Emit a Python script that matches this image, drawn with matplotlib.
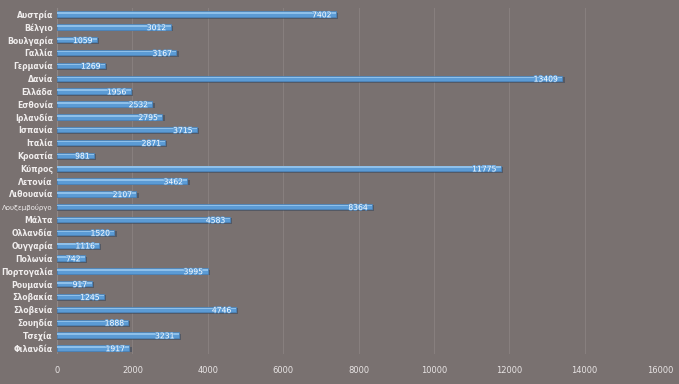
import matplotlib
matplotlib.use("Agg")
import matplotlib.pyplot as plt
import matplotlib.patheffects as pe

countries = ["Αυστρία", "Βέλγιο", "Βουλγαρία", "Γαλλία", "Γερμανία", "Δανία", "Ελλάδα",
             "Εσθονία", "Ιρλανδία", "Ισπανία", "Ιταλία", "Κροατία", "Κύπρος", "Λετονία",
             "Λιθουανία", "Λουξεμβούργο", "Μάλτα", "Ολλανδία", "Ουγγαρία", "Πολωνία",
             "Πορτογαλία", "Ρουμανία", "Σλοβακία", "Σλοβενία", "Σουηδία", "Τσεχία", "Φιλανδία"]
values = [7402, 3012, 1059, 3167, 1269, 13409, 1956, 2532, 2795, 3715, 2871, 981, 11775,
          3462, 2107, 8364, 4583, 1520, 1116, 742, 3995, 917, 1245, 4746, 1888, 3231, 1917]
xticks = [0, 2000, 4000, 6000, 8000, 10000, 12000, 14000, 16000]

bg = "#797170"
fig = plt.figure(figsize=(6.79, 3.84), dpi=100, facecolor=bg)
ax = fig.add_axes([0.084, 0.077, 0.888, 0.903], facecolor=bg)

ypos = list(range(len(countries)))
# shadow
ax.barh([y + 0.12 for y in ypos], [v + 60 for v in values], height=0.45,
        color="#3c4a5c", alpha=0.6, zorder=2)
ax.barh(ypos, values, height=0.42, color="#5b9bd5", edgecolor="#4a86c0",
        linewidth=0.5, zorder=3)
ax.barh([y - 0.08 for y in ypos], values, height=0.12, color="#8ec0ea", zorder=4)

for y, v in zip(ypos, values):
    ax.text(v - 120, y + 0.05, str(v), ha="right", va="center", fontsize=5.5,
            color="white", zorder=5,
            path_effects=[pe.withStroke(linewidth=1, foreground="#5b9bd5")])

ax.set_xlim(0, 16000)
ax.set_ylim(len(countries) - 0.5, -0.5)
ax.set_xticks(xticks)
ax.set_xticklabels([str(t) for t in xticks], fontsize=6, color="#e8e4e4")
ax.set_yticks(ypos)
ax.set_yticklabels(countries, fontsize=5.6, color="#f0eded", fontweight="bold")
for lbl in ax.get_yticklabels():
    if len(lbl.get_text()) > 11:
        lbl.set_fontsize(5.0)
        lbl.set_fontweight("normal")
ax.tick_params(axis="y", length=0, pad=3)
ax.tick_params(axis="x", length=0, pad=8)
ax.grid(axis="x", color="#877f7e", linewidth=0.8, zorder=0)
ax.set_axisbelow(True)
for s in ax.spines.values():
    s.set_visible(False)
ax.axvline(0, color="#8e8786", linewidth=0.8, zorder=1)

fig.savefig("out.png", dpi=100, facecolor=bg)
